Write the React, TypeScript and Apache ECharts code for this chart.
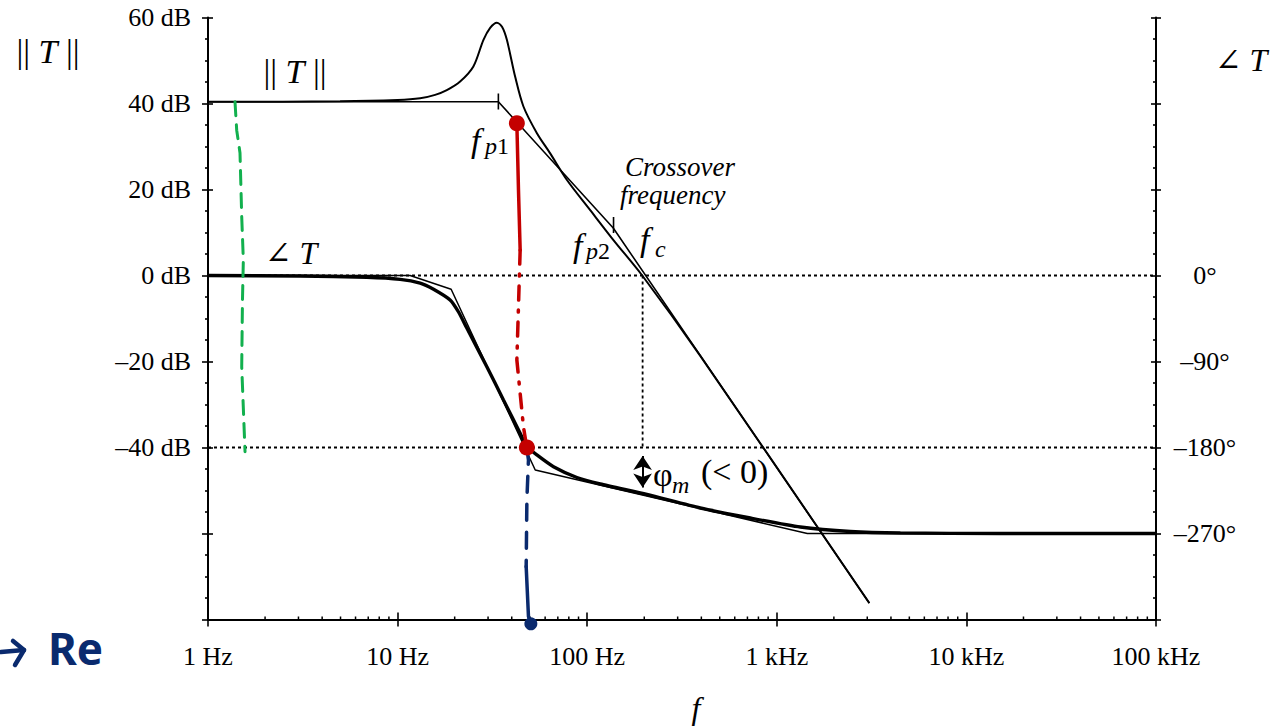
import React, { useEffect, useRef } from 'react';
import * as echarts from 'echarts';

const SERIF = '"Liberation Serif", "Times New Roman", "DejaVu Serif", serif';

// ---- axis ticks ----
const xTickValues = [1, 10, 100, 1000, 10000, 100000];
const xTickLabels = ['1 Hz', '10 Hz', '100 Hz', '1 kHz', '10 kHz', '100 kHz'];
const dbTickValues = [60, 40, 20, 0, -20, -40];
const dbTickLabels = ['60 dB', '40 dB', '20 dB', '0 dB', '–20 dB', '–40 dB'];
const degTickValues = [0, -90, -180, -270];
const degTickLabels = ['0°', '–90°', '–180°', '–270°'];
const decades = [1, 10, 100, 1000, 10000];
const minorMultipliers = [2, 3, 4, 5, 6, 7, 8, 9];

// ---- magnitude ||T|| (dB) ----
const magExactFreq = [1, 4.97, 10, 13.15, 15.77, 18.18, 21.37, 25.1, 28.37, 30.77, 33.38, 35.6, 37.7, 41.7, 46.1, 54.3, 63.8, 78.2, 103.7, 137.2, 195.1, 394.8, 3077];
const magExactDb = [40.4, 40.5, 40.8, 41.2, 42.0, 43.1, 45.1, 48.6, 54.8, 57.6, 58.8, 57.8, 54.8, 46.2, 39.3, 33.1, 28.4, 22.2, 15.2, 8.3, 0, -18.7, -76.2];
const magAsymFreq = [1, 34, 137.2, 3077];
const magAsymDb = [40.4, 40.4, 11.05, -76.2];

// ---- phase ∠T (degrees) ----
const phaseExactFreq = [1, 3.06, 6.88, 10.31, 13.15, 15.39, 18.92, 20.96, 23.18, 29.56, 36.17, 44.3, 48.07, 54.28, 66.42, 88.24, 117.1, 206.5, 394.8, 724.8, 1330, 2443, 4485, 15115, 100000];
const phaseExactDeg = [0, -0.5, -1.9, -4.0, -7.9, -14.1, -25.6, -38.2, -55.0, -95.4, -130.2, -165.1, -179.0, -187.8, -200.1, -211.4, -218.2, -229.2, -243.3, -253.8, -263.2, -267.9, -269.5, -270, -270];
const phaseAsymFreq = [1, 11.64, 19.16, 53.2, 1449, 100000];
const phaseAsymDeg = [0, 0, -14.4, -203.5, -270, -270];

// ---- markers ----
const fp1 = 34;
const fp1TickDb = [42.3, 38.6];
const fp2 = 137.7;
const fp2TickDb = [13.6, 9.9];
const fc = 196;
const phiArrowDb = [-42.0, -49.3];

// ---- hand-drawn annotations (dB scale) ----
const greenFreq = [1.388, 1.417, 1.475, 1.506, 1.536, 1.52, 1.506, 1.568];
const greenDb = [40.4, 33.8, 28.5, 13.7, 3.6, -5.7, -21.2, -41.0];
const redSolidFreq = [42.56, 43.4, 44.3];
const redSolidDb = [35.4, 20, 5.9];
const redDashFreq = [44.3, 42.56, 46.1, 48.07];
const redDashDb = [5.9, -19.65, -35.16, -40.19];
const redDotFreq = [42.56, 48.07];
const redDotDb = [35.4, -40.0];
const blueDashFreq = [48.07, 49.0, 48.07, 47.66];
const blueDashDb = [-40.2, -42.9, -52.2, -67.7];
const blueSolidFreq = [47.66, 49.0, 50.45];
const blueSolidDb = [-67.7, -79.3, -81.0];
const blueDotFreq = [50.45];
const blueDotDb = [-81.0];

const zip = (a: number[], b: number[]) => a.map((v, i) => [v, b[i]]);

function buildOption() {
  const tickStyle = { color: '#000', width: 1.6 };
  const axisLineStyle = { color: '#000', width: 2 };
  const labelBase = { color: '#000', fontSize: 26, fontFamily: SERIF };
  const NAVY = '#0a2a6e';

  const xMinorTicks: number[] = [];
  decades.forEach((d) => minorMultipliers.forEach((m) => xMinorTicks.push(d * m)));

  const xBase = {
    type: 'log', logBase: 10, min: 1, max: 100000, gridIndex: 0,
    splitLine: { show: false }, minorTick: { show: false }, minorSplitLine: { show: false },
  };
  const fmtX = (v: number) => {
    const k = Math.round(Math.log10(v));
    const i = xTickValues.indexOf(Math.pow(10, k));
    return i >= 0 ? xTickLabels[i] : '';
  };
  const fmtDb = (v: number) => {
    const i = dbTickValues.indexOf(v);
    return i >= 0 ? dbTickLabels[i] : '';
  };
  const fmtDeg = (v: number) => {
    const i = degTickValues.indexOf(v);
    return i >= 0 ? degTickLabels[i] : '';
  };

  const line = (data: number[][], width: number, yAxisIndex = 0, extra: any = {}) => ({
    type: 'line', data, xAxisIndex: 0, yAxisIndex, showSymbol: false, symbol: 'none', silent: true,
    lineStyle: { color: '#000', width, ...(extra.lineStyle || {}) },
    ...Object.fromEntries(Object.entries(extra).filter(([k]) => k !== 'lineStyle')),
  });

  const rich = (size: number) => ({
    n: { fontSize: size, fontFamily: SERIF, fontStyle: 'normal', fill: '#000' },
    i: { fontSize: size, fontFamily: SERIF, fontStyle: 'italic', fill: '#000' },
  });
  const txt = (x: number, y: number, text: string, size: number, opt: any = {}) => ({
    type: 'text', x, y, silent: true, z: 100,
    style: {
      text, fill: opt.color || '#000', fontSize: size, fontFamily: opt.family || SERIF,
      fontStyle: opt.italic ? 'italic' : 'normal', fontWeight: opt.bold ? 'bold' : 'normal',
      align: opt.align || 'left', verticalAlign: 'middle', rich: rich(size),
    },
  });

  return {
    animation: false,
    backgroundColor: '#fff',
    grid: { left: 208, right: 120, top: 17.5, bottom: 107.5, containLabel: false },
    xAxis: [
      {
        ...xBase, position: 'bottom',
        axisLine: { show: true, onZero: false, lineStyle: axisLineStyle },
        axisTick: { show: true, inside: false, length: 7, lineStyle: tickStyle },
        axisLabel: { ...labelBase, margin: 24, formatter: fmtX },
      },
      {
        ...xBase, position: 'bottom',
        axisLine: { show: false, onZero: false },
        axisTick: { show: true, inside: true, length: 7, lineStyle: tickStyle },
        axisLabel: { show: false },
      },
    ],
    yAxis: [
      {
        type: 'value', position: 'left', min: -80, max: 60, interval: 20,
        axisLine: { show: true, onZero: false, lineStyle: axisLineStyle },
        axisTick: { show: true, inside: false, length: 6, lineStyle: tickStyle },
        minorTick: { show: true, splitNumber: 4, length: 3, lineStyle: tickStyle },
        splitLine: { show: false },
        axisLabel: { ...labelBase, margin: 17, formatter: fmtDb },
      },
      {
        type: 'value', position: 'right', min: -360, max: 270, interval: 90,
        axisLine: { show: true, onZero: false, lineStyle: axisLineStyle },
        axisTick: { show: true, inside: false, length: 5, lineStyle: tickStyle },
        splitLine: { show: false },
        axisLabel: { ...labelBase, margin: 49, align: 'center', formatter: fmtDeg },
      },
      {
        type: 'value', position: 'left', min: -80, max: 60, interval: 20,
        axisLine: { show: false, onZero: false },
        axisTick: { show: true, inside: true, length: 5, lineStyle: tickStyle },
        splitLine: { show: false }, axisLabel: { show: false },
      },
      {
        type: 'value', position: 'right', min: -360, max: 270, interval: 90,
        axisLine: { show: false, onZero: false },
        axisTick: { show: true, inside: true, length: 5, lineStyle: tickStyle },
        minorTick: { show: true, splitNumber: 4, length: 3, lineStyle: tickStyle },
        splitLine: { show: false }, axisLabel: { show: false },
      },
    ],
    series: [
      {
        type: 'custom', xAxisIndex: 0, yAxisIndex: 0, silent: true, z: 5,
        data: xMinorTicks.map((f) => [f, -80]),
        encode: { x: 0, y: 1 },
        renderItem: (_p: any, api: any) => {
          const p = api.coord([api.value(0), api.value(1)]);
          return { type: 'line', shape: { x1: p[0], y1: p[1], x2: p[0], y2: p[1] - 3 }, style: { stroke: '#000', lineWidth: 1.5 } };
        },
      },
      // dotted reference lines
      line([[1, 0], [100000, 0]], 1.8, 0, { z: 1, lineStyle: { type: [3, 3] } }),
      line([[1, -40], [100000, -40]], 1.8, 0, { z: 1, lineStyle: { type: [3, 3] } }),
      line([[fc, 0], [fc, -40]], 1.8, 0, {
        z: 1, lineStyle: { type: [3, 3] },
        markLine: {
          silent: true, symbol: ['arrow', 'arrow'], symbolSize: 14, label: { show: false },
          lineStyle: { color: '#000', width: 2, type: 'solid' },
          data: [[{ coord: [fc, phiArrowDb[0]] }, { coord: [fc, phiArrowDb[1]] }]],
        },
      }),
      // magnitude
      line(zip(magAsymFreq, magAsymDb), 1.6, 0, { z: 3 }),
      line(zip(magExactFreq, magExactDb), 2, 0, { z: 3, smooth: 0.3 }),
      line([[fp1, fp1TickDb[0]], [fp1, fp1TickDb[1]]], 1.6, 0, { z: 3 }),
      line([[fp2, fp2TickDb[0]], [fp2, fp2TickDb[1]]], 1.6, 0, { z: 3 }),
      // phase
      line(zip(phaseAsymFreq, phaseAsymDeg), 1.5, 1, { z: 3 }),
      line(zip(phaseExactFreq, phaseExactDeg), 3.4, 1, { z: 3, smooth: 0.2 }),
      // hand-drawn annotations
      line(zip(greenFreq, greenDb), 3, 0, { z: 10, lineStyle: { color: '#12b04e', type: [14, 9], cap: 'round' } }),
      line(zip(redSolidFreq, redSolidDb), 3.5, 0, { z: 10, lineStyle: { color: '#c40000', cap: 'round' } }),
      line(zip(redDashFreq, redDashDb), 3.5, 0, { z: 10, lineStyle: { color: '#c40000', type: [14, 10, 2, 10], cap: 'round' } }),
      line(zip(blueDashFreq, blueDashDb), 3.5, 0, { z: 10, clip: false, lineStyle: { color: NAVY, type: [16, 12], cap: 'round' } }),
      line(zip(blueSolidFreq, blueSolidDb), 3.5, 0, { z: 10, clip: false, lineStyle: { color: NAVY, cap: 'round' } }),
      {
        type: 'scatter', xAxisIndex: 0, yAxisIndex: 0, silent: true, z: 11, clip: false,
        symbol: 'circle', symbolSize: 16, itemStyle: { color: '#c40000', opacity: 1 },
        data: zip(redDotFreq, redDotDb),
      },
      {
        type: 'scatter', xAxisIndex: 0, yAxisIndex: 0, silent: true, z: 11, clip: false,
        symbol: 'circle', symbolSize: 13, itemStyle: { color: NAVY, opacity: 1 },
        data: zip(blueDotFreq, blueDotDb),
      },
    ],
    graphic: [
      txt(48, 51, '{n|||} {i|T} {n|||}', 34, { align: 'center' }),
      txt(295, 71, '{n|||} {i|T} {n|||}', 34, { align: 'center' }),
      txt(291, 253, '{n|∠} {i|T}', 32, { align: 'center' }),
      txt(1241, 60, '{n|∠} {i|T}', 32, { align: 'center' }),
      txt(471, 140, 'f', 34, { italic: true }),
      txt(485, 146, '{i|p}{n|1}', 24),
      txt(573, 245, 'f', 34, { italic: true }),
      txt(586, 251, '{i|p}{n|2}', 24),
      txt(640, 239, 'f', 34, { italic: true }),
      txt(655, 249, '{i|c}', 24),
      txt(625, 167, 'Crossover', 27, { italic: true }),
      txt(620, 195, 'frequency', 27, { italic: true }),
      txt(653, 474, 'φ', 34),
      txt(672, 485, '{i|m}', 24),
      txt(701, 471, '(< 0)', 34),
      txt(696, 708, 'f', 32, { italic: true, align: 'center' }),
      {
        type: 'polyline', silent: true, z: 100,
        shape: { points: [[1, 652], [24, 650]] },
        style: { stroke: NAVY, lineWidth: 4.5, lineCap: 'round', fill: null },
      },
      {
        type: 'polyline', silent: true, z: 100,
        shape: { points: [[13, 641], [24, 650], [15, 665]] },
        style: { stroke: NAVY, lineWidth: 4.5, lineCap: 'round', lineJoin: 'round', fill: null },
      },
      txt(48, 648, 'Re', 44, { bold: true, color: NAVY, family: '"Noto Sans", sans-serif' }),
    ],
  };
}

export default function App() {
  const ref = useRef<HTMLDivElement>(null);
  useEffect(() => {
    if (!ref.current) return;
    const chart = echarts.init(ref.current, null, { renderer: 'svg' });
    chart.setOption(buildOption() as any);
    return () => chart.dispose();
  }, []);
  return (
    <div
      ref={ref}
      style={{ position: 'absolute', left: 0, top: 0, width: 1276, height: 727, background: '#fff' }}
    />
  );
}
